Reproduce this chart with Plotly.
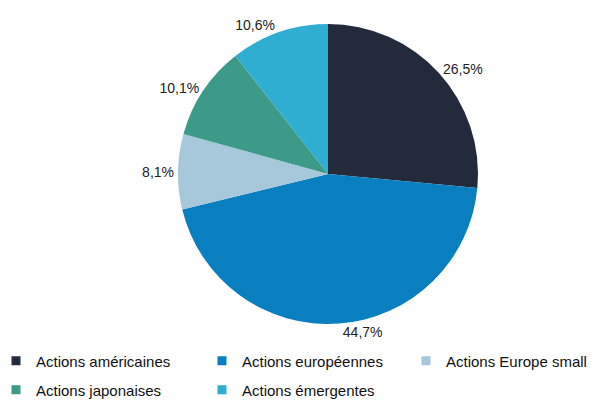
import plotly.graph_objects as go

categories = ["Actions américaines", "Actions européennes", "Actions Europe small",
              "Actions japonaises", "Actions émergentes"]
values = [26.5, 44.7, 8.1, 10.1, 10.6]
labels_txt = ["26,5%", "44,7%", "8,1%", "10,1%", "10,6%"]
colors = ["#232A3B", "#0A7FC0", "#A7C8DB", "#3D9A88", "#2FAED1"]

W, H = 605, 400
FONT = "Liberation Sans, Arial, sans-serif"
OFF = 8  # page body margin offset in the screenshot
cx, cy, r = 328 - OFF, 174 - OFF, 150

# legend entry placement (text left edge px on screen, row centre px on screen)
leg_x = [37, 243, 447, 37, 243]
leg_y = [361, 361, 361, 390, 390]

fig = go.Figure()
fig.add_trace(go.Pie(
    labels=categories,
    values=values,
    text=labels_txt,
    texttemplate="%{text}",
    textinfo="text",
    textposition="outside",
    sort=False,
    direction="clockwise",
    rotation=0,
    marker=dict(colors=colors, line=dict(width=0)),
    outsidetextfont=dict(family=FONT, size=14, color="#222222"),
    hoverinfo="label+percent",
    showlegend=False,
    domain=dict(x=[(cx - r) / W, (cx + r) / W], y=[(H - cy - r) / H, (H - cy + r) / H]),
))

legends = {}
for i, (cat, col) in enumerate(zip(categories, colors)):
    name = "legend" if i == 0 else f"legend{i + 1}"
    fig.add_trace(go.Scatter(
        x=[None], y=[None], mode="markers", name=cat, legend=name,
        marker=dict(symbol="square", size=9, color=col),
        hoverinfo="skip",
    ))
    legends[name] = dict(
        orientation="h",
        x=(leg_x[i] - 49) / W, xanchor="left",
        y=(H - (leg_y[i] - OFF)) / H, yanchor="middle",
        font=dict(family=FONT, size=15, color="#111111"),
        bgcolor="rgba(0,0,0,0)",
    )

fig.update_layout(
    width=W, height=H,
    margin=dict(l=0, r=0, t=0, b=0, autoexpand=False),
    paper_bgcolor="white",
    plot_bgcolor="white",
    font=dict(family=FONT, size=15, color="#111111"),
    xaxis=dict(visible=False),
    yaxis=dict(visible=False),
    showlegend=True,
    **legends,
)

fig.write_html("out.html")
